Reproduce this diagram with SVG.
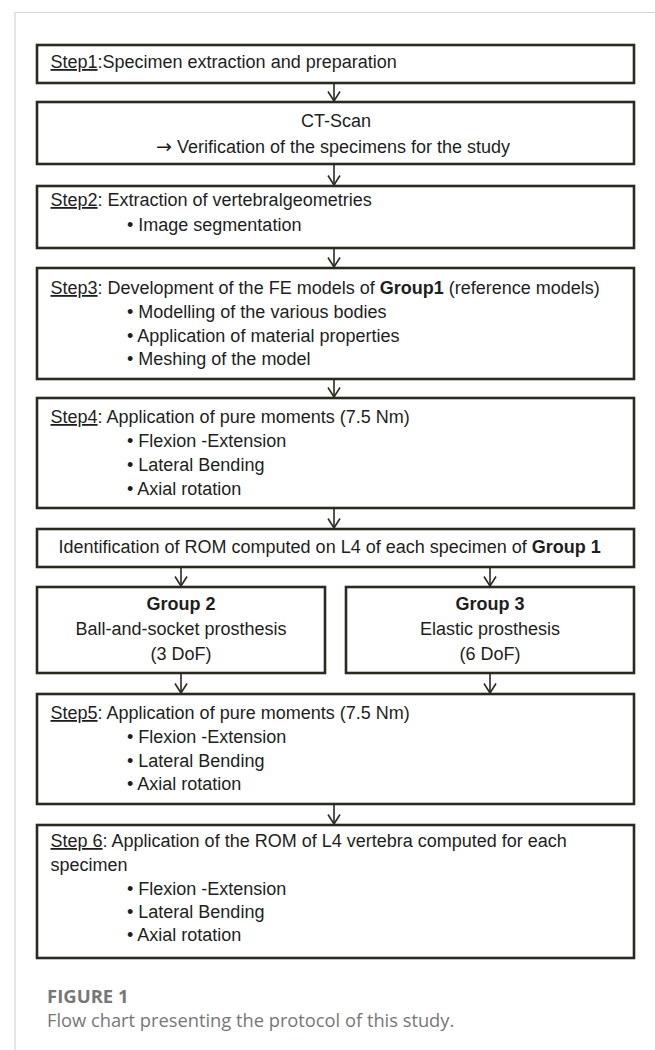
<svg xmlns="http://www.w3.org/2000/svg" width="655" height="1050" viewBox="0 0 655 1050">
<defs>
<marker id="v" viewBox="-11 -8 13 16" markerWidth="13" markerHeight="16" refX="0" refY="0" orient="auto" markerUnits="userSpaceOnUse">
<path d="M-9.5,-6 L0,0 L-9.5,6" fill="none" stroke="#2b2a20" stroke-width="1.6"/>
</marker>
<style>
.b{fill:#fff;stroke:#2b2a20;stroke-width:2.6}
.t{font-family:"Liberation Sans",Arial,sans-serif;font-size:18px;fill:#1e1e1e}
.bd{font-weight:bold}
.u{text-decoration:underline}
.c{text-anchor:middle}
.a{fill:none;stroke:#2b2a20;stroke-width:1.6;marker-end:url(#v)}
.cap{font-family:"Open Sans","Liberation Sans",sans-serif;fill:#777}
.ar{font-family:"DejaVu Sans",sans-serif;font-size:19px}
</style>
</defs>
<rect width="655" height="1050" fill="#fff"/>
<path d="M15,12.5 H655 M15,12 V1050" fill="none" stroke="#d6d6d6" stroke-width="1.2"/>

<g id="connectors">
<line class="a" x1="334" y1="84" x2="334" y2="101"/>
<line class="a" x1="334" y1="165" x2="334" y2="185"/>
<line class="a" x1="334" y1="249" x2="334" y2="267"/>
<line class="a" x1="334" y1="380" x2="334" y2="397"/>
<line class="a" x1="334" y1="509" x2="334" y2="528"/>
<line class="a" x1="181" y1="568" x2="181" y2="586"/>
<line class="a" x1="490" y1="568" x2="490" y2="586"/>
<line class="a" x1="181" y1="674" x2="181" y2="693"/>
<line class="a" x1="490" y1="674" x2="490" y2="693"/>
<line class="a" x1="334" y1="805" x2="334" y2="824"/>
</g>

<g id="step1">
<rect class="b" x="37" y="45" width="597" height="38"/>
<text class="t" x="50.5" y="68"><tspan class="u">Step1</tspan>:Specimen extraction and preparation</text>
</g>

<g id="ctscan">
<rect class="b" x="37" y="102" width="597" height="62"/>
<text class="t c" x="336" y="127">CT-Scan</text>
<text class="t" x="156" y="153"><tspan class="ar">→</tspan> Verification of the specimens for the study</text>
</g>

<g id="step2">
<rect class="b" x="37" y="186" width="597" height="62"/>
<text class="t" x="50.5" y="206"><tspan class="u">Step2</tspan>: Extraction of vertebralgeometries</text>
<text class="t" x="127" y="231">• Image segmentation</text>
</g>

<g id="step3">
<rect class="b" x="37" y="268" width="597" height="111"/>
<text class="t" x="50.5" y="294"><tspan class="u">Step3</tspan>: Development of the FE models of <tspan class="bd">Group1</tspan> (reference models)</text>
<text class="t" x="127" y="318">• Modelling of the various bodies</text>
<text class="t" x="127" y="342">• Application of material properties</text>
<text class="t" x="127" y="365">• Meshing of the model</text>
</g>

<g id="step4">
<rect class="b" x="37" y="398" width="597" height="110"/>
<text class="t" x="50.5" y="423"><tspan class="u">Step4</tspan>: Application of pure moments (7.5 Nm)</text>
<text class="t" x="127" y="447">• Flexion -Extension</text>
<text class="t" x="127" y="471">• Lateral Bending</text>
<text class="t" x="127" y="495">• Axial rotation</text>
</g>

<g id="identification">
<rect class="b" x="37" y="529" width="597" height="38"/>
<text class="t" x="58.5" y="553">Identification of ROM computed on L4 of each specimen of <tspan class="bd">Group 1</tspan></text>
</g>

<g id="group2">
<rect class="b" x="37" y="587" width="288" height="86"/>
<text class="t c bd" x="181" y="610">Group 2</text>
<text class="t c" x="181" y="635">Ball-and-socket prosthesis</text>
<text class="t c" x="181" y="660">(3 DoF)</text>
</g>

<g id="group3">
<rect class="b" x="346" y="587" width="288" height="86"/>
<text class="t c bd" x="490" y="610">Group 3</text>
<text class="t c" x="490" y="635">Elastic prosthesis</text>
<text class="t c" x="490" y="660">(6 DoF)</text>
</g>

<g id="step5">
<rect class="b" x="37" y="694" width="597" height="110"/>
<text class="t" x="50.5" y="719"><tspan class="u">Step5</tspan>: Application of pure moments (7.5 Nm)</text>
<text class="t" x="127" y="743">• Flexion -Extension</text>
<text class="t" x="127" y="767">• Lateral Bending</text>
<text class="t" x="127" y="790">• Axial rotation</text>
</g>

<g id="step6">
<rect class="b" x="37" y="825" width="597" height="133"/>
<text class="t" x="50.5" y="847"><tspan class="u">Step 6</tspan>: Application of the ROM of L4 vertebra computed for each</text>
<text class="t" x="50.5" y="871">specimen</text>
<text class="t" x="127" y="895">• Flexion -Extension</text>
<text class="t" x="127" y="918">• Lateral Bending</text>
<text class="t" x="127" y="941">• Axial rotation</text>
</g>

<g id="caption">
<text class="cap" x="47" y="1003" font-size="18.5" font-weight="bold">FIGURE 1</text>
<text class="cap" x="47" y="1027" font-size="18.3">Flow chart presenting the protocol of this study.</text>
</g>
</svg>
